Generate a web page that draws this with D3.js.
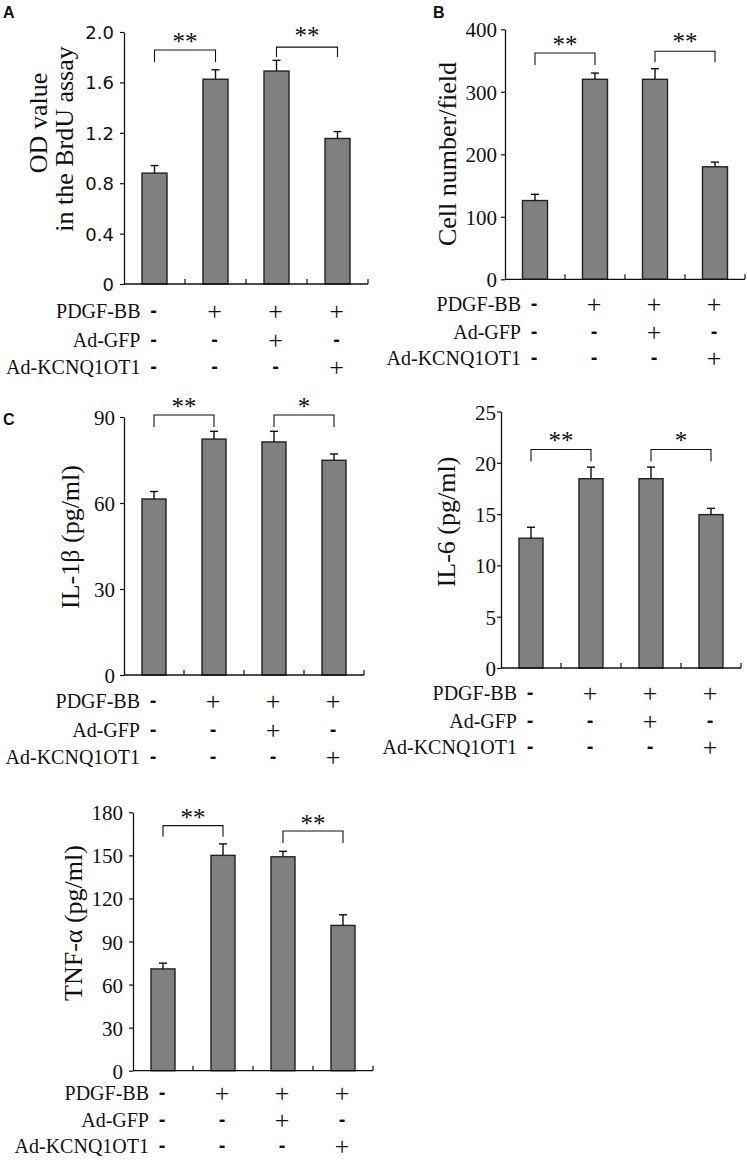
<!DOCTYPE html>
<html>
<head>
<meta charset="utf-8">
<script src="https://cdn.jsdelivr.net/npm/d3@7"></script>
<style>
  html, body { margin: 0; padding: 0; background: #fff; }
  svg { display: block; }
</style>
</head>
<body>
<svg id="chart" width="747" height="1162"></svg>
<script>
// ---------------- DATA ----------------
const groups = [0, 1, 2, 3];
const rowLabels = ["PDGF-BB", "Ad-GFP", "Ad-KCNQ1OT1"];
const pdgfRow = ["-", "+", "+", "+"];
const adGfpRow = ["-", "-", "+", "-"];
const adKcnqRow = ["-", "-", "-", "+"];

const brduMean = [0.88, 1.625, 1.69, 1.155];
const brduErr = [0.06, 0.075, 0.085, 0.055];
const brduTicks = [0, 0.4, 0.8, 1.2, 1.6, 2.0];
const brduTickLabels = ["0", "0.4", "0.8", "1.2", "1.6", "2.0"];
const brduSigPairs = [[0, 1], [2, 3]];
const brduSigLevel = [1.857, 1.88];
const brduSigText = ["**", "**"];

const cellMean = [126, 320, 320, 180];
const cellErr = [10, 10, 17, 7.5];
const cellTicks = [0, 100, 200, 300, 400];
const cellTickLabels = ["0", "100", "200", "300", "400"];
const cellSigPairs = [[0, 1], [2, 3]];
const cellSigLevel = [362, 365];
const cellSigText = ["**", "**"];

const il1bMean = [61.4, 82.3, 81.3, 74.9];
const il1bErr = [2.6, 2.7, 3.7, 2.2];
const il1bTicks = [0, 30, 60, 90];
const il1bTickLabels = ["0", "30", "60", "90"];
const il1bSigPairs = [[0, 1], [2, 3]];
const il1bSigLevel = [90.7, 90.7];
const il1bSigText = ["**", "*"];

const il6Mean = [12.65, 18.45, 18.45, 14.95];
const il6Err = [1.07, 1.13, 1.13, 0.61];
const il6Ticks = [0, 5, 10, 15, 20, 25];
const il6TickLabels = ["0", "5", "10", "15", "20", "25"];
const il6SigPairs = [[0, 1], [2, 3]];
const il6SigLevel = [21.3, 21.3];
const il6SigText = ["**", "*"];

const tnfMean = [70.9, 150, 149, 101.2];
const tnfErr = [4.0, 8.0, 3.8, 7.4];
const tnfTicks = [0, 30, 60, 90, 120, 150, 180];
const tnfTickLabels = ["0", "30", "60", "90", "120", "150", "180"];
const tnfSigPairs = [[0, 1], [2, 3]];
const tnfSigLevel = [170.7, 167];
const tnfSigText = ["**", "**"];

// ---------------- DRAWING ----------------
const svg = d3.select("#chart");
const SERIF = "'Liberation Serif', 'Times New Roman', serif";
const SANS = "'Liberation Sans', Arial, sans-serif";

function panel(cfg) {
  const g = svg.append("g");
  const max = cfg.ticks[cfg.ticks.length - 1];
  const y = d3.scaleLinear().domain([0, max]).range([cfg.yZero, cfg.yTop]);
  const step = (cfg.x1 - cfg.x0) / groups.length;
  const p = 1 - cfg.barW / step;
  const x = d3.scaleBand().domain(groups).range([cfg.x0, cfg.x1])
    .paddingInner(p).paddingOuter(p / 2);
  const cx = i => x(i) + x.bandwidth() / 2;

  // bars
  g.selectAll("rect.bar").data(cfg.mean).join("rect")
    .attr("class", "bar")
    .attr("x", (d, i) => x(i))
    .attr("width", x.bandwidth())
    .attr("y", d => y(d))
    .attr("height", d => y(0) - y(d))
    .attr("fill", "#808080")
    .attr("stroke", "#222")
    .attr("stroke-width", 1.4);

  // error bars (upper only)
  const eb = g.selectAll("g.err").data(cfg.mean).join("g").attr("class", "err");
  eb.append("line")
    .attr("x1", (d, i) => cx(i)).attr("x2", (d, i) => cx(i))
    .attr("y1", d => y(d)).attr("y2", (d, i) => y(d + cfg.err[i]))
    .attr("stroke", "#111").attr("stroke-width", 1.4);
  eb.append("line")
    .attr("x1", (d, i) => cx(i) - 4).attr("x2", (d, i) => cx(i) + 4)
    .attr("y1", (d, i) => y(d + cfg.err[i])).attr("y2", (d, i) => y(d + cfg.err[i]))
    .attr("stroke", "#111").attr("stroke-width", 1.4);

  // y axis
  const yAxis = d3.axisLeft(y).tickValues(cfg.ticks)
    .tickFormat((d, i) => cfg.tickLabels[i]).tickSize(4).tickSizeOuter(0);
  const ya = g.append("g").attr("transform", `translate(${cfg.x0},0)`).call(yAxis);
  ya.select(".domain").attr("stroke", "#111").attr("stroke-width", 1.3);
  ya.selectAll(".tick line").attr("stroke", "#111").attr("stroke-width", 1.2);
  ya.selectAll(".tick text")
    .attr("x", -(cfg.labelGap))
    .attr("dy", "0.36em")
    .style("font-family", cfg.tickFont)
    .style("font-size", cfg.tickSize + "px")
    .attr("fill", "#111");

  // x axis line with inward ticks at band boundaries
  g.append("line")
    .attr("x1", cfg.x0).attr("x2", cfg.x1)
    .attr("y1", y(0)).attr("y2", y(0))
    .attr("stroke", "#111").attr("stroke-width", 1.3);
  g.selectAll("line.xt").data(d3.range(1, groups.length + 1)).join("line")
    .attr("class", "xt")
    .attr("x1", i => cfg.x0 + i * x.step()).attr("x2", i => cfg.x0 + i * x.step())
    .attr("y1", y(0)).attr("y2", y(0) - 5)
    .attr("stroke", "#111").attr("stroke-width", 1.2);

  // y title (rotated)
  cfg.titles.forEach(t => {
    g.append("text")
      .attr("transform", `translate(${t.x},${t.y}) rotate(-90)`)
      .attr("text-anchor", "middle")
      .style("font-family", SERIF)
      .style("font-size", "26px")
      .attr("fill", "#111")
      .text(t.text);
  });

  // significance brackets
  cfg.sigPairs.forEach((pr, k) => {
    const xa = cx(pr[0]), xb = cx(pr[1]);
    const yt = y(cfg.sigLevel[k]);
    const leg = cfg.legs[k];
    g.append("path")
      .attr("d", `M${xa},${yt + leg}V${yt}H${xb}V${yt + leg}`)
      .attr("fill", "none").attr("stroke", "#111").attr("stroke-width", 1.1);
    g.append("text")
      .attr("x", (xa + xb) / 2).attr("y", yt + cfg.starDy[k])
      .attr("text-anchor", "middle")
      .style("font-family", SERIF)
      .style("font-size", "25px")
      .attr("fill", "#111")
      .text(cfg.sigText[k]);
  });

  // treatment rows
  const rows = [pdgfRow, adGfpRow, adKcnqRow];
  rows.forEach((row, r) => {
    const by = cfg.rows[r];
    g.append("text")
      .attr("x", cx(0) - 14).attr("y", by)
      .attr("text-anchor", "end")
      .style("font-family", SERIF)
      .style("font-size", "20px")
      .attr("fill", "#111")
      .text(rowLabels[r]);
    g.selectAll(null).data(row).join("text")
      .attr("x", (d, i) => cx(i) - 1)
      .attr("y", d => d === "+" ? by + 2 : by - 1)
      .attr("text-anchor", "middle")
      .style("font-family", d => d === "+" ? SERIF : SANS)
      .style("font-weight", d => d === "+" ? "normal" : "bold")
      .style("font-size", d => d === "+" ? "26px" : "20px")
      .attr("fill", "#111")
      .text(d => d);
  });

  if (cfg.letter) {
    svg.append("text")
      .attr("x", cfg.letter.x).attr("y", cfg.letter.y)
      .style("font-family", SANS)
      .style("font-weight", "bold")
      .style("font-size", "16px")
      .attr("fill", "#111")
      .text(cfg.letter.t);
  }
}

panel({
  mean: brduMean, err: brduErr, ticks: brduTicks, tickLabels: brduTickLabels,
  sigPairs: brduSigPairs, sigLevel: brduSigLevel, sigText: brduSigText,
  x0: 124, x1: 368, yTop: 32, yZero: 284, barW: 25,
  tickFont: "'DejaVu Sans', Verdana, sans-serif", tickSize: 18, labelGap: 10,
  titles: [{ text: "OD value", x: 47, y: 123 }, { text: "in the BrdU assay", x: 73, y: 139 }],
  legs: [12, 10], starDy: [0, -3],
  rows: [318, 347, 374],
  letter: { t: "A", x: 3, y: 18 }
});

panel({
  mean: cellMean, err: cellErr, ticks: cellTicks, tickLabels: cellTickLabels,
  sigPairs: cellSigPairs, sigLevel: cellSigLevel, sigText: cellSigText,
  x0: 505, x1: 745, yTop: 29.3, yZero: 279.3, barW: 25,
  tickFont: SERIF, tickSize: 21, labelGap: 8,
  titles: [{ text: "Cell number/field", x: 456, y: 154 }],
  legs: [12, 11], starDy: [0, -1],
  rows: [311, 339, 365],
  letter: { t: "B", x: 433, y: 18 }
});

panel({
  mean: il1bMean, err: il1bErr, ticks: il1bTicks, tickLabels: il1bTickLabels,
  sigPairs: il1bSigPairs, sigLevel: il1bSigLevel, sigText: il1bSigText,
  x0: 124, x1: 364, yTop: 417, yZero: 675, barW: 24,
  tickFont: SERIF, tickSize: 21, labelGap: 9,
  titles: [{ text: "IL-1β (pg/ml)", x: 79, y: 537 }],
  legs: [12, 12], starDy: [0, 0],
  rows: [708, 737, 764],
  letter: { t: "C", x: 3, y: 425 }
});

panel({
  mean: il6Mean, err: il6Err, ticks: il6Ticks, tickLabels: il6TickLabels,
  sigPairs: il6SigPairs, sigLevel: il6SigLevel, sigText: il6SigText,
  x0: 501, x1: 741, yTop: 411.5, yZero: 668, barW: 24,
  tickFont: SERIF, tickSize: 21, labelGap: 5,
  titles: [{ text: "IL-6 (pg/ml)", x: 455, y: 522 }],
  legs: [12, 12], starDy: [0, 0],
  rows: [700, 728, 754],
  letter: null
});

panel({
  mean: tnfMean, err: tnfErr, ticks: tnfTicks, tickLabels: tnfTickLabels,
  sigPairs: tnfSigPairs, sigLevel: tnfSigLevel, sigText: tnfSigText,
  x0: 133, x1: 373, yTop: 812.3, yZero: 1070.7, barW: 24,
  tickFont: SERIF, tickSize: 21, labelGap: 10,
  titles: [{ text: "TNF-α (pg/ml)", x: 82, y: 923 }],
  legs: [11, 12], starDy: [0, 1],
  rows: [1100, 1127, 1153],
  letter: null
});
</script>
</body>
</html>
